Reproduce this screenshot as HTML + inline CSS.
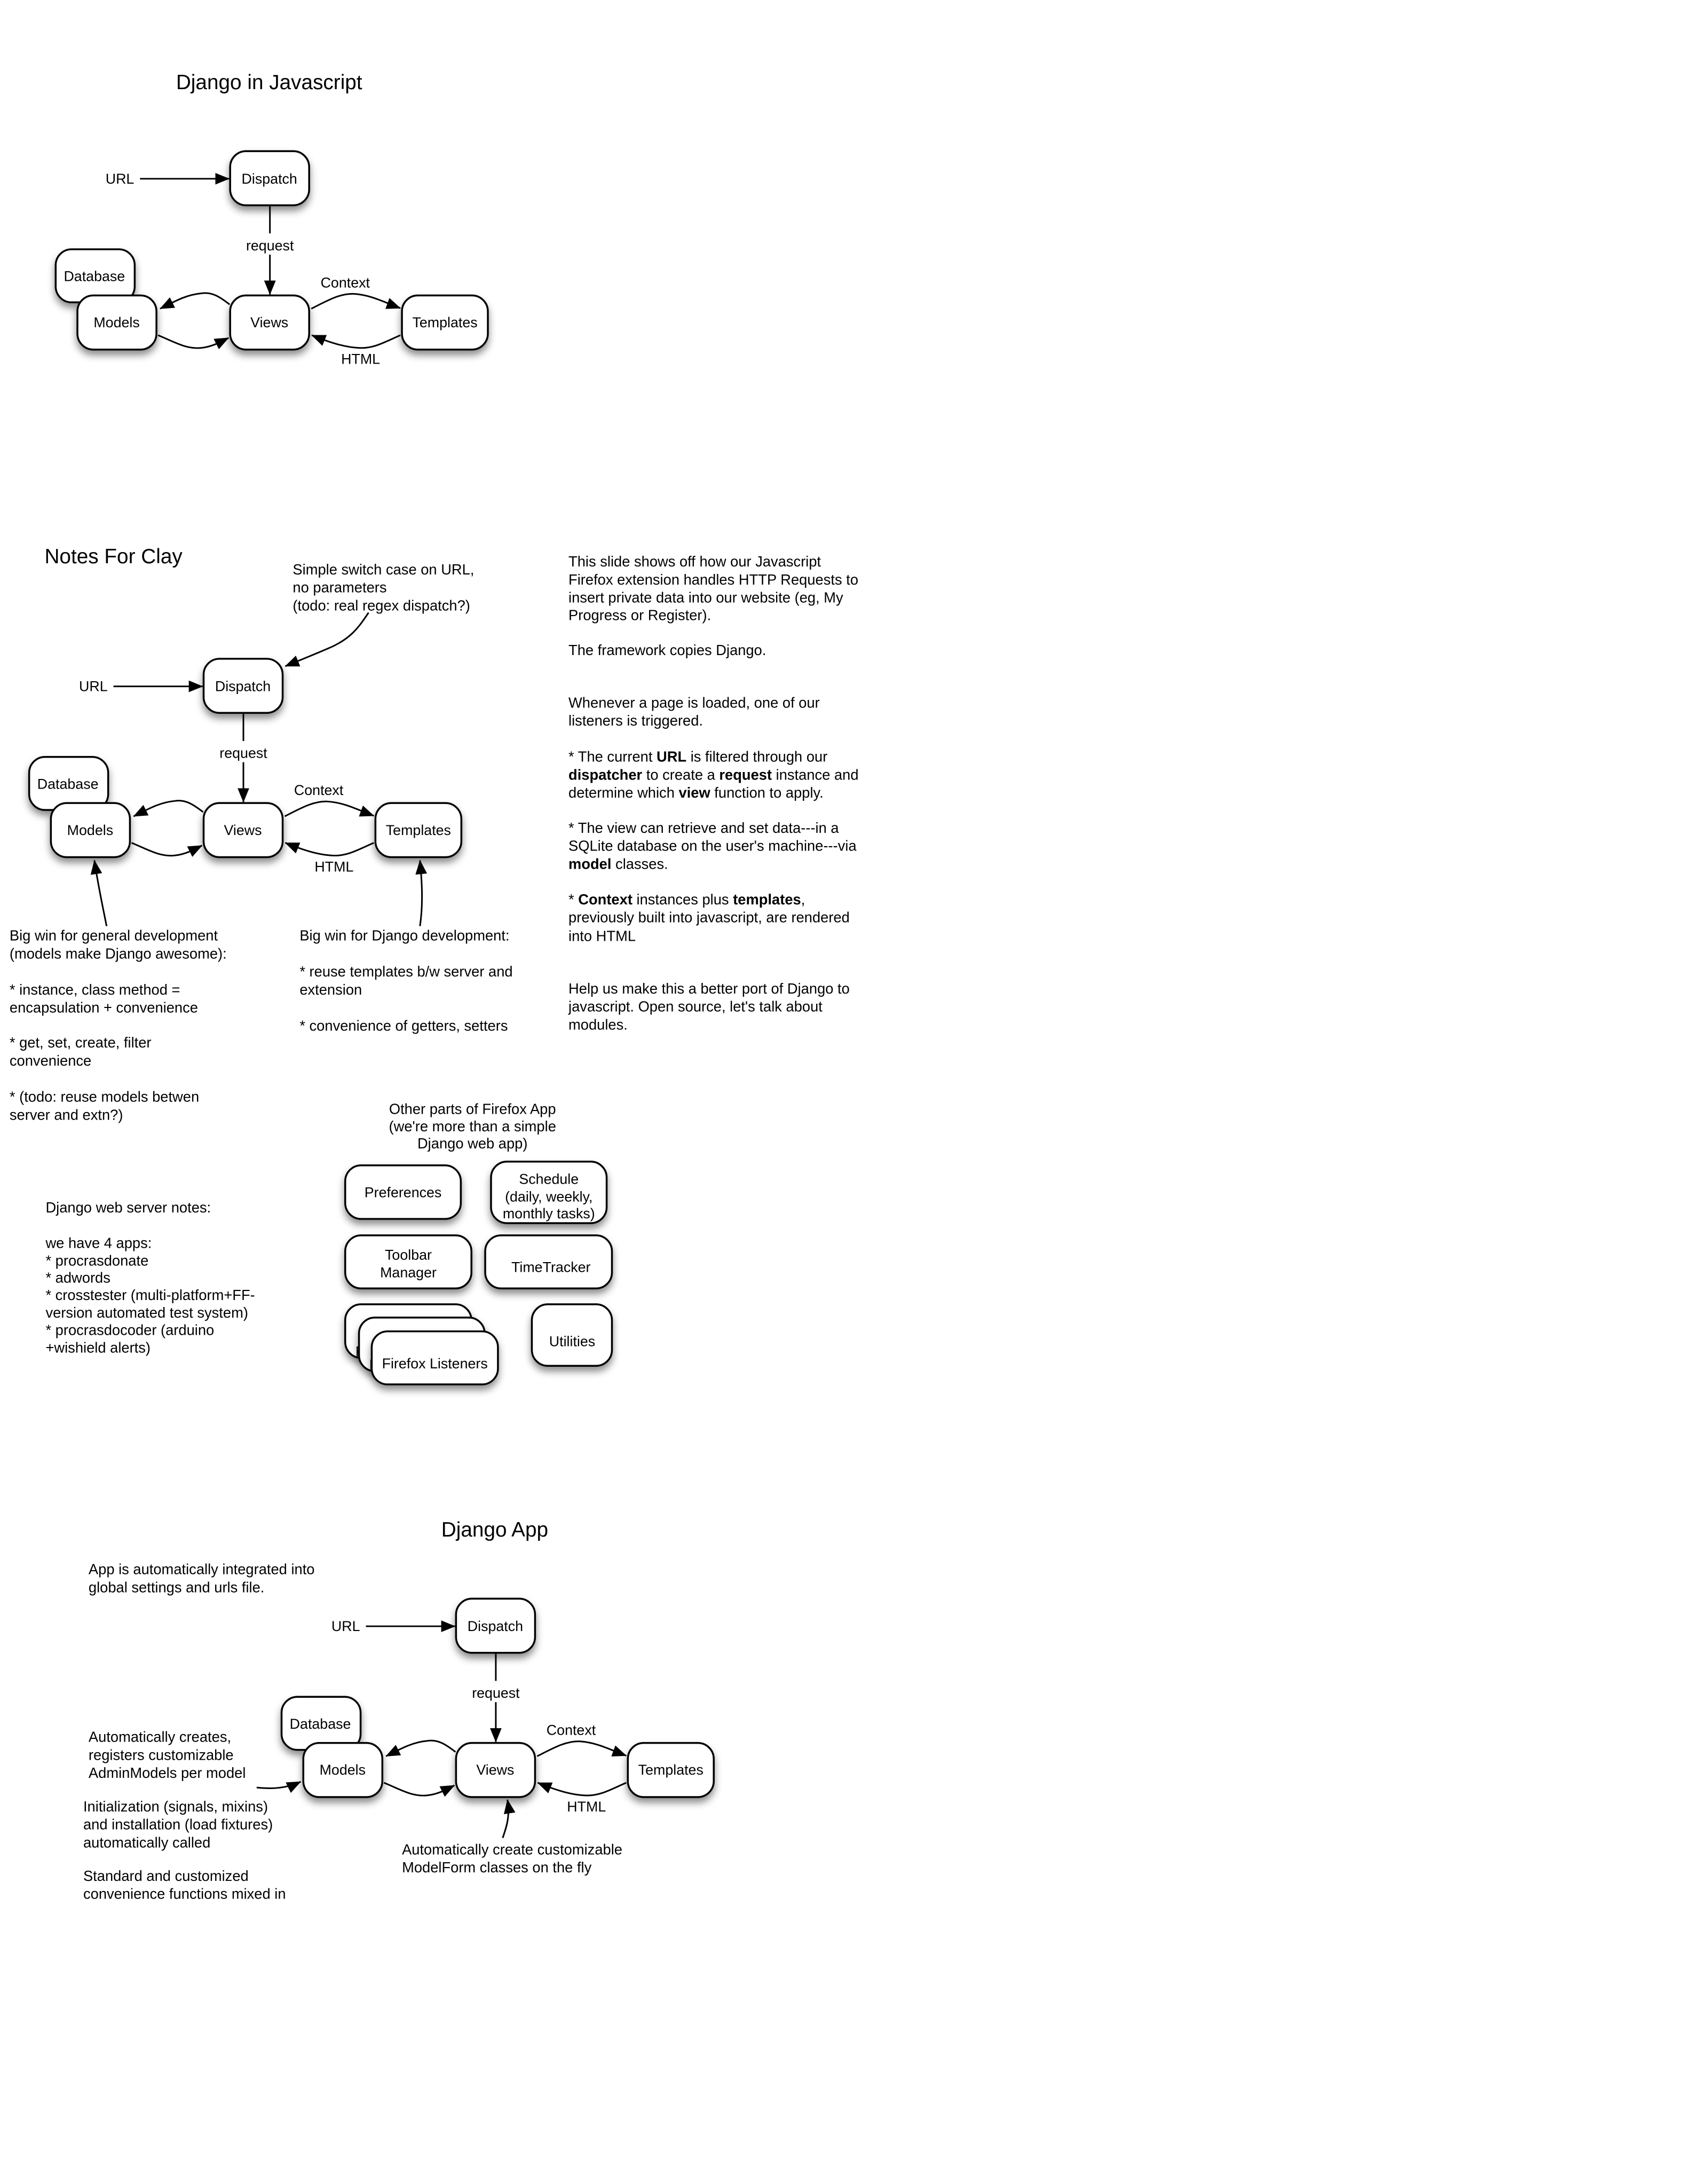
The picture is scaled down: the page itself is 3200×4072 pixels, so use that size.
<!DOCTYPE html>
<html><head><meta charset="utf-8"><style>
html,body{margin:0;padding:0;background:#fff;}
svg{display:block;font-family:"Liberation Sans",Arial,sans-serif;}
</style></head><body>
<svg width="3200" height="4072" viewBox="0 0 3200 4072" xmlns="http://www.w3.org/2000/svg">
<defs>
<filter id="sh" x="-20%" y="-20%" width="150%" height="160%">
<feDropShadow dx="0" dy="9" stdDeviation="7" flood-color="#000" flood-opacity="0.45"/>
</filter>
<marker id="ah" markerUnits="userSpaceOnUse" markerWidth="30" markerHeight="24" refX="26" refY="11" orient="auto">
<path d="M0,0 L27,11 L0,22 Z" fill="#000"/>
</marker>
<g id="diag">
  <text x="199" y="346" font-size="27">URL</text>
  <line x1="264" y1="337" x2="432" y2="337" stroke="#000" stroke-width="3" marker-end="url(#ah)"/>
  <line x1="509" y1="387" x2="509" y2="440" stroke="#000" stroke-width="3"/>
  <line x1="509" y1="480" x2="509" y2="555" stroke="#000" stroke-width="3" marker-end="url(#ah)"/>
  <text x="509" y="472" font-size="27" text-anchor="middle">request</text>
  <path d="M433,574 C415,560 400,550 380,553 C350,556 330,568 302,582" fill="none" stroke="#000" stroke-width="3" marker-end="url(#ah)"/>
  <path d="M298,632 C330,645 350,658 378,656 C400,654 415,645 431,637" fill="none" stroke="#000" stroke-width="3" marker-end="url(#ah)"/>
  <path d="M587,582 C615,568 640,553 667,554 C700,556 725,570 755,581" fill="none" stroke="#000" stroke-width="3" marker-end="url(#ah)"/>
  <path d="M755,632 C725,645 705,657 679,656 C650,655 620,645 588,632" fill="none" stroke="#000" stroke-width="3" marker-end="url(#ah)"/>
  <text x="651" y="542" font-size="27" text-anchor="middle">Context</text>
  <text x="680" y="686" font-size="27" text-anchor="middle">HTML</text>
  <g filter="url(#sh)" stroke="#000" stroke-width="3.5" fill="#fff">
    <rect x="434" y="285" width="149" height="102" rx="30"/>
    <rect x="105" y="470" width="149" height="100" rx="30"/>
    <rect x="146" y="557" width="149" height="102" rx="30"/>
    <rect x="434" y="557" width="149" height="102" rx="30"/>
    <rect x="758" y="557" width="162" height="102" rx="30"/>
  </g>
  <g font-size="27" text-anchor="middle">
    <text x="508" y="346">Dispatch</text>
    <text x="178" y="530">Database</text>
    <text x="220" y="617">Models</text>
    <text x="508" y="617">Views</text>
    <text x="839" y="617">Templates</text>
  </g>
</g>
</defs>
<g transform="scale(0.9935)">
<text x="332" y="168" font-size="39">Django in Javascript</text>
<use href="#diag"/>

<text x="84" y="1062" font-size="39">Notes For Clay</text>
<use href="#diag" transform="translate(-50,957)"/>
<g font-size="27.5">
<text x="552" y="1083">Simple switch case on URL,</text>
<text x="552" y="1117">no parameters</text>
<text x="552" y="1151">(todo: real regex dispatch?)</text>
</g>
<path d="M695,1155 C675,1185 660,1205 620,1222 C590,1235 570,1243 538,1256" fill="none" stroke="#000" stroke-width="3" marker-end="url(#ah)"/>
<path d="M201,1746 C195,1715 185,1670 178,1622" fill="none" stroke="#000" stroke-width="3" marker-end="url(#ah)"/>
<path d="M792,1746 C798,1705 796,1665 792,1622" fill="none" stroke="#000" stroke-width="3" marker-end="url(#ah)"/>

<g font-size="27.5">
<text x="18" y="1773">Big win for general development</text>
<text x="18" y="1807">(models make Django awesome):</text>
<text x="18" y="1875">* instance, class method =</text>
<text x="18" y="1909">encapsulation + convenience</text>
<text x="18" y="1975">* get, set, create, filter</text>
<text x="18" y="2009">convenience</text>
<text x="18" y="2077">* (todo: reuse models betwen</text>
<text x="18" y="2111">server and extn?)</text>

<text x="565" y="1773">Big win for Django development:</text>
<text x="565" y="1841">* reuse templates b/w server and</text>
<text x="565" y="1875">extension</text>
<text x="565" y="1943">* convenience of getters, setters</text>

<text x="1072" y="1068">This slide shows off how our Javascript</text>
<text x="1072" y="1102">Firefox extension handles HTTP Requests to</text>
<text x="1072" y="1136">insert private data into our website (eg, My</text>
<text x="1072" y="1169">Progress or Register).</text>
<text x="1072" y="1235">The framework copies Django.</text>
<text x="1072" y="1334">Whenever a page is loaded, one of our</text>
<text x="1072" y="1368">listeners is triggered.</text>
<text x="1072" y="1436">* The current <tspan font-weight="bold">URL</tspan> is filtered through our</text>
<text x="1072" y="1470"><tspan font-weight="bold">dispatcher</tspan> to create a <tspan font-weight="bold">request</tspan> instance and</text>
<text x="1072" y="1504">determine which <tspan font-weight="bold">view</tspan> function to apply.</text>
<text x="1072" y="1570">* The view can retrieve and set data---in a</text>
<text x="1072" y="1604">SQLite database on the user's machine---via</text>
<text x="1072" y="1638"><tspan font-weight="bold">model</tspan> classes.</text>
<text x="1072" y="1705">* <tspan font-weight="bold">Context</tspan> instances plus <tspan font-weight="bold">templates</tspan>,</text>
<text x="1072" y="1739">previously built into javascript, are rendered</text>
<text x="1072" y="1774">into HTML</text>
<text x="1072" y="1873">Help us make this a better port of Django to</text>
<text x="1072" y="1907">javascript. Open source, let's talk about</text>
<text x="1072" y="1941">modules.</text>

<text x="86" y="2286">Django web server notes:</text>
<text x="86" y="2353">we have 4 apps:</text>
<text x="86" y="2386">* procrasdonate</text>
<text x="86" y="2418">* adwords</text>
<text x="86" y="2451">* crosstester (multi-platform+FF-</text>
<text x="86" y="2484">version automated test system)</text>
<text x="86" y="2517">* procrasdocoder (arduino</text>
<text x="86" y="2550">+wishield alerts)</text>
</g>

<g transform="translate(2,14)">
<g font-size="27.5" text-anchor="middle">
<text x="889" y="2086">Other parts of Firefox App</text>
<text x="889" y="2119">(we're more than a simple</text>
<text x="889" y="2151">Django web app)</text>
</g>
<g font-size="27" text-anchor="middle">
<g filter="url(#sh)" stroke="#000" stroke-width="3.5" fill="#fff">
<rect x="649" y="2183" width="218" height="101" rx="30"/>
<rect x="924" y="2176" width="218" height="116" rx="30"/>
<rect x="649" y="2315" width="238" height="100" rx="30"/>
<rect x="913" y="2315" width="239" height="100" rx="30"/>
<rect x="1001" y="2445" width="151" height="116" rx="30"/>
<rect x="649" y="2445" width="238" height="101" rx="30"/>
</g>
<text x="768" y="2543">Firefox Listeners</text>
<rect x="675" y="2470" width="237" height="101" rx="30" stroke="#000" stroke-width="3.5" fill="#fff" filter="url(#sh)"/>
<text x="794" y="2568">Firefox Listeners</text>
<rect x="699" y="2496" width="238" height="100" rx="30" stroke="#000" stroke-width="3.5" fill="#fff" filter="url(#sh)"/>
<text x="758" y="2243">Preferences</text>
<text x="1033" y="2218">Schedule</text>
<text x="1033" y="2251">(daily, weekly,</text>
<text x="1033" y="2283">monthly tasks)</text>
<text x="768" y="2361">Toolbar</text>
<text x="768" y="2394">Manager</text>
<text x="1037" y="2384">TimeTracker</text>
<text x="1077" y="2524">Utilities</text>
<text x="818" y="2566">Firefox Listeners</text>
</g>
</g>

<text x="933" y="2897" font-size="39" text-anchor="middle">Django App</text>
<use href="#diag" transform="translate(426,2729)"/>
<g font-size="27.5">
<text x="167" y="2968">App is automatically integrated into</text>
<text x="167" y="3002">global settings and urls file.</text>
<text x="167" y="3284">Automatically creates,</text>
<text x="167" y="3318">registers customizable</text>
<text x="167" y="3352">AdminModels per model</text>
<text x="157" y="3415">Initialization (signals, mixins)</text>
<text x="157" y="3449">and installation (load fixtures)</text>
<text x="157" y="3483">automatically called</text>
<text x="157" y="3546">Standard and customized</text>
<text x="157" y="3580">convenience functions mixed in</text>
<text x="758" y="3496">Automatically create customizable</text>
<text x="758" y="3530">ModelForm classes on the fly</text>
</g>
<path d="M484,3370 C510,3373 540,3372 567,3359" fill="none" stroke="#000" stroke-width="3" marker-end="url(#ah)"/>
<path d="M948,3465 C955,3445 962,3425 957,3393" fill="none" stroke="#000" stroke-width="3" marker-end="url(#ah)"/>
</g>
</svg>
</body></html>
